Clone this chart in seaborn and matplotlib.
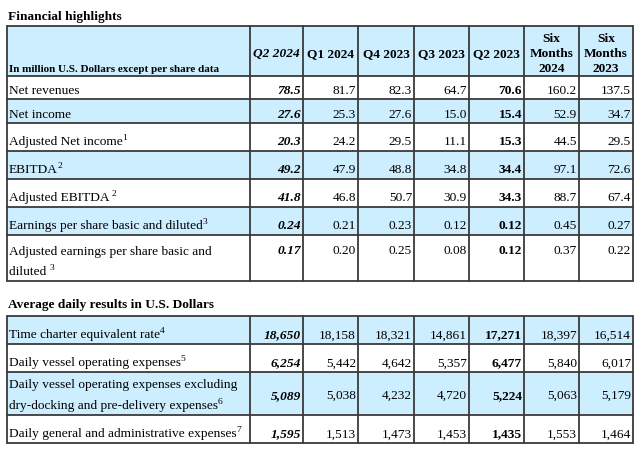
import matplotlib.pyplot as plt
import seaborn as sns

sns.set_theme(style="white")
plt.rcParams['font.family'] = ['Liberation Serif', 'DejaVu Serif']

# table data
columns = ["Q2 2024", "Q1 2024", "Q4 2023", "Q3 2023", "Q2 2023",
           "Six\nMonths\n2024", "Six\nMonths\n2023"]

fin_labels = ["Net revenues", "Net income", "Adjusted Net income", "EBITDA",
              "Adjusted EBITDA ", "Earnings per share basic and diluted",
              "Adjusted earnings per share basic and\ndiluted "]
fin_notes = ["", "", "1", "2", "2", "3", "3"]
fin_values = [
    ["78.5", "81.7", "82.3", "64.7", "70.6", "160.2", "137.5"],
    ["27.6", "25.3", "27.6", "15.0", "15.4", "52.9", "34.7"],
    ["20.3", "24.2", "29.5", "11.1", "15.3", "44.5", "29.5"],
    ["49.2", "47.9", "48.8", "34.8", "34.4", "97.1", "72.6"],
    ["41.8", "46.8", "50.7", "30.9", "34.3", "88.7", "67.4"],
    ["0.24", "0.21", "0.23", "0.12", "0.12", "0.45", "0.27"],
    ["0.17", "0.20", "0.25", "0.08", "0.12", "0.37", "0.22"],
]

daily_labels = ["Time charter equivalent rate", "Daily vessel operating expenses",
                "Daily vessel operating expenses excluding\ndry-docking and pre-delivery expenses",
                "Daily general and administrative expenses"]
daily_notes = ["4", "5", "6", "7"]
daily_values = [
    ["18,650", "18,158", "18,321", "14,861", "17,271", "18,397", "16,514"],
    ["6,254", "5,442", "4,642", "5,357", "6,477", "5,840", "6,017"],
    ["5,089", "5,038", "4,232", "4,720", "5,224", "5,063", "5,179"],
    ["1,595", "1,513", "1,473", "1,453", "1,435", "1,553", "1,464"],
]

# layout (pixels)
col_edges = [7, 250, 303, 358, 414, 469, 524, 579, 633]
fin_edges = [27, 77, 100, 124, 152, 180, 208, 236, 282]
daily_edges = [317, 345, 373, 416, 444]
BLUE = "#cceeff"
LINE = "#3a3a3a"
FS = 9.6
LINE_H = 21

fig = plt.figure(figsize=(6.4, 4.52), dpi=100)
ax = fig.add_axes([0, 0, 1, 1])
ax.set_xlim(0, 640)
ax.set_ylim(452, 0)
ax.axis('off')
renderer = fig.canvas.get_renderer()


def col_style(j):
    if j == 0:
        return dict(fontweight='bold', fontstyle='italic')
    if j == 4:
        return dict(fontweight='bold')
    return {}


def label_with_note(x, y, text, note):
    t = ax.text(x, y, text, ha='left', va='baseline', fontsize=FS, color='black')
    if note:
        bb = t.get_window_extent(renderer)
        x_end = ax.transData.inverted().transform((bb.x1, bb.y0))[0]
        ax.text(x_end - 0.5, y - 5, note, ha='left', va='baseline', fontsize=6.8, color='black')


def draw_body(edges, labels, notes, values, first_blue, top_align):
    for i, lab in enumerate(labels):
        top, bot = edges[i], edges[i + 1]
        fill = BLUE if (i % 2 == 0) == first_blue else "white"
        ax.add_patch(plt.Rectangle((col_edges[0], top), col_edges[-1] - col_edges[0], bot - top,
                                   facecolor=fill, edgecolor='none', zorder=0))
        lines = lab.split("\n")
        base = [bot - 6.5 - LINE_H * (len(lines) - 1 - k) for k in range(len(lines))]
        for k, ln in enumerate(lines):
            label_with_note(col_edges[0] + 2, base[k], ln, notes[i] if k == len(lines) - 1 else "")
        vy = base[0] if top_align else sum(base) / len(base)
        for j, v in enumerate(values[i]):
            ax.text(col_edges[j + 2] - 2, vy, v, ha='right', va='baseline', fontsize=FS,
                    color='black', **col_style(j))


def draw_grid(edges):
    for y in edges:
        ax.plot([col_edges[0], col_edges[-1]], [y, y], color=LINE, lw=1.3, zorder=3)
    for x in col_edges:
        ax.plot([x, x], [edges[0], edges[-1]], color=LINE, lw=1.3, zorder=3)


# section 1
ax.text(8, 20, "Financial highlights", ha='left', va='baseline', fontsize=9.6,
        fontweight='bold', color='black')
ax.add_patch(plt.Rectangle((col_edges[0], fin_edges[0]), col_edges[-1] - col_edges[0],
                           fin_edges[1] - fin_edges[0], facecolor=BLUE, edgecolor='none', zorder=0))
ax.text(col_edges[0] + 2, fin_edges[1] - 5, "In million U.S. Dollars except per share data",
        ha='left', va='baseline', fontsize=8, fontweight='bold', color='black')
for j, c in enumerate(columns):
    xc = (col_edges[j + 1] + col_edges[j + 2]) / 2
    lines = c.split("\n")
    mid = (fin_edges[0] + fin_edges[1]) / 2 + 5
    for k, ln in enumerate(lines):
        y = mid + 15 * (k - (len(lines) - 1) / 2)
        st = dict(fontweight='bold', fontstyle='italic') if j == 0 else dict(fontweight='bold')
        ax.text(xc, y, ln, ha='center', va='baseline', fontsize=FS, color='black', **st)

draw_body(fin_edges[1:], fin_labels, fin_notes, fin_values, first_blue=False, top_align=True)
draw_grid(fin_edges)

# section 2
ax.text(8, 308, "Average daily results in U.S. Dollars", ha='left', va='baseline',
        fontsize=9.6, fontweight='bold', color='black')
draw_body(daily_edges, daily_labels, daily_notes, daily_values, first_blue=True, top_align=False)
draw_grid(daily_edges)

fig.savefig("out.png", dpi=100, facecolor='white')
